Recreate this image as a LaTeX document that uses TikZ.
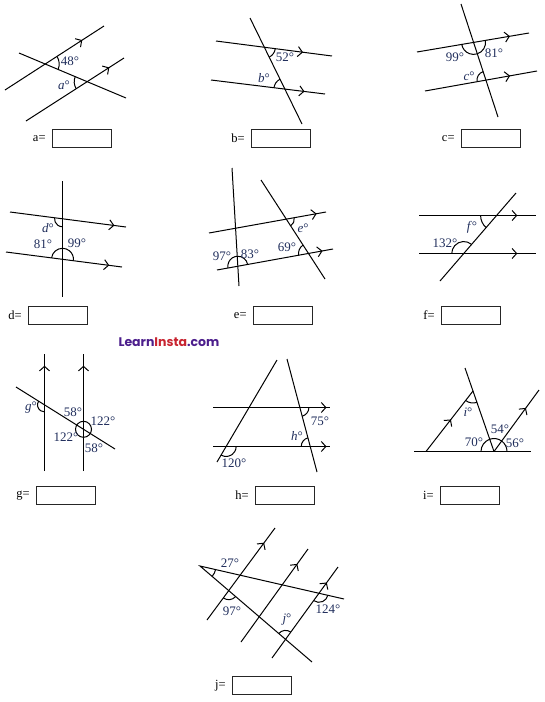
\documentclass[tikz,border=0pt]{standalone}
\usepackage{fontspec}
\setmainfont{Liberation Serif}
\usepackage{tikz}
\usetikzlibrary{arrows.meta}
\usetikzlibrary{angles,decorations.markings}
\usepackage{xcolor}
\newfontfamily\logofont{Poppins}
\definecolor{lblblue}{RGB}{32,46,92}
\definecolor{logopurple}{RGB}{76,30,140}
\definecolor{logored}{RGB}{200,36,48}

\begin{document}
\begin{tikzpicture}[x=1pt, y=-1pt, line width=1pt,
    parline/.style={postaction={decorate}, decoration={markings,
        mark=at position #1 with {\arrow[line width=1pt]{Straight Barb[length=4.5pt,width=10pt]}}}},
    ang/.style={draw, line width=1pt, angle radius=#1pt},
    lbl/.style={text=lblblue, font=\fontsize{13}{15}\selectfont, inner sep=0pt},
    ansbox/.style={draw=black!85, line width=0.9pt, minimum width=59pt, minimum height=18pt, inner sep=0pt},
    anstxt/.style={left=6pt, font=\fontsize{12.5}{14}\selectfont, inner sep=0pt}]
    \useasboundingbox (0,0) rectangle (545,702);

    % a
    \coordinate (aU1) at (5,90);    \coordinate (aU2) at (104,26);
    \coordinate (aL1) at (26,121);  \coordinate (aL2) at (124,58);
    \coordinate (aT1) at (19,53);   \coordinate (aT2) at (126,98);
    \coordinate (aP) at (intersection of aU1--aU2 and aT1--aT2);
    \coordinate (aQ) at (intersection of aL1--aL2 and aT1--aT2);
    \draw[parline=0.78] (aU1) -- (aU2);
    \draw[parline=0.85] (aL1) -- (aL2);
    \draw (aT1) -- (aT2);
    \pic[ang=14] {angle=aT2--aP--aU2};
    \pic[ang=13] {angle=aT1--aQ--aL1};
    \node[lbl] at (70,61) {48°};
    \node[lbl] at (64,85) {\textit{a}°};
    \node[ansbox] (aBox) at (82,138.5) {};
    \node[anstxt] at (aBox.west) {a=};

    % b
    \coordinate (bU1) at (216,41);  \coordinate (bU2) at (332,56);
    \coordinate (bL1) at (211,80);  \coordinate (bL2) at (325,94);
    \coordinate (bT1) at (250,18);  \coordinate (bT2) at (302,124);
    \coordinate (bP) at (intersection of bU1--bU2 and bT1--bT2);
    \coordinate (bQ) at (intersection of bL1--bL2 and bT1--bT2);
    \draw[parline=0.75] (bU1) -- (bU2);
    \draw[parline=0.82] (bL1) -- (bL2);
    \draw (bT1) -- (bT2);
    \pic[ang=11] {angle=bT2--bP--bU2};
    \pic[ang=11] {angle=bT1--bQ--bL1};
    \node[lbl] at (285,57) {52°};
    \node[lbl] at (264,78) {\textit{b}°};
    \node[ansbox] (bBox) at (281,138.5) {};
    \node[anstxt] at (bBox.west) {b=};

    % c
    \coordinate (cU1) at (417,52);  \coordinate (cU2) at (529,33);
    \coordinate (cL1) at (425,91);  \coordinate (cL2) at (537,71);
    \coordinate (cT1) at (461,4);   \coordinate (cT2) at (498,117);
    \coordinate (cP) at (intersection of cU1--cU2 and cT1--cT2);
    \coordinate (cQ) at (intersection of cL1--cL2 and cT1--cT2);
    \draw[parline=0.83] (cU1) -- (cU2);
    \draw[parline=0.76] (cL1) -- (cL2);
    \draw (cT1) -- (cT2);
    \pic[ang=12] {angle=cU1--cP--cT2};
    \pic[ang=12] {angle=cT2--cP--cU2};
    \pic[ang=9] {angle=cT1--cQ--cL1};
    \node[lbl] at (455,57) {99°};
    \node[lbl] at (494,53) {81°};
    \node[lbl] at (469,76) {\textit{c}°};
    \node[ansbox] (cBox) at (491,138.5) {};
    \node[anstxt] at (cBox.west) {c=};

    % d
    \coordinate (dV1) at (62.5,181); \coordinate (dV2) at (62.5,297);
    \coordinate (dU1) at (10,212);  \coordinate (dU2) at (126,227);
    \coordinate (dL1) at (6,252);   \coordinate (dL2) at (122,267);
    \coordinate (dP) at (intersection of dU1--dU2 and dV1--dV2);
    \coordinate (dQ) at (intersection of dL1--dL2 and dV1--dV2);
    \draw[parline=0.9] (dU1) -- (dU2);
    \draw[parline=0.89] (dL1) -- (dL2);
    \draw (dV1) -- (dV2);
    \pic[ang=8] {angle=dU1--dP--dV2};
    \pic[ang=11] {angle=dL2--dQ--dV1};
    \pic[ang=11] {angle=dV1--dQ--dL1};
    \node[lbl] at (48,228) {\textit{d}°};
    \node[lbl] at (43,244) {81°};
    \node[lbl] at (77,243) {99°};
    \node[ansbox] (dBox) at (58,315.5) {};
    \node[anstxt] at (dBox.west) {d=};

    % e
    \coordinate (eA1) at (232,168); \coordinate (eA2) at (239,286);
    \coordinate (eB1) at (261,180); \coordinate (eB2) at (325,279);
    \coordinate (eU1) at (209,233); \coordinate (eU2) at (326,212);
    \coordinate (eL1) at (217,270); \coordinate (eL2) at (333,249);
    \coordinate (eP) at (intersection of eU1--eU2 and eB1--eB2);
    \coordinate (eQ) at (intersection of eL1--eL2 and eB1--eB2);
    \coordinate (eR) at (intersection of eL1--eL2 and eA1--eA2);
    \draw[parline=0.92] (eU1) -- (eU2);
    \draw[parline=0.91] (eL1) -- (eL2);
    \draw (eA1) -- (eA2);
    \draw (eB1) -- (eB2);
    \pic[ang=8] {angle=eB2--eP--eU2};
    \pic[ang=10] {angle=eB1--eQ--eL1};
    \pic[ang=10] {angle=eL2--eR--eA1};
    \pic[ang=10] {angle=eA1--eR--eL1};
    \node[lbl] at (303,228) {\textit{e}°};
    \node[lbl] at (287,247) {69°};
    \node[lbl] at (222,256) {97°};
    \node[lbl] at (250,254) {83°};
    \node[ansbox] (eBox) at (283,315.5) {};
    \node[anstxt] at (eBox.west) {e=};

    % f
    \coordinate (fU1) at (419,215.5); \coordinate (fU2) at (536,215.5);
    \coordinate (fL1) at (419,253.5); \coordinate (fL2) at (536,253.5);
    \coordinate (fT1) at (516,193); \coordinate (fT2) at (440,281);
    \coordinate (fP) at (intersection of fU1--fU2 and fT1--fT2);
    \coordinate (fQ) at (intersection of fL1--fL2 and fT1--fT2);
    \draw[parline=0.84] (fU1) -- (fU2);
    \draw[parline=0.84] (fL1) -- (fL2);
    \draw (fT1) -- (fT2);
    \pic[ang=16] {angle=fU1--fP--fT2};
    \pic[ang=12] {angle=fT1--fQ--fL1};
    \node[lbl] at (472,227) {\textit{f}°};
    \node[lbl] at (445,243) {132°};
    \node[ansbox] (fBox) at (471,315.5) {};
    \node[anstxt] at (fBox.west) {f=};

    % logo
    \node[font=\logofont\bfseries\fontsize{12.5}{14}\selectfont, inner sep=0pt] (logo) at (169,342)
        {\textcolor{logopurple}{Learn}\textcolor{logored}{Insta}\textcolor{logopurple}{.com}};

    % g
    \coordinate (gV1) at (44.5,471);  \coordinate (gV2) at (44.5,354);
    \coordinate (gW1) at (83.5,471);  \coordinate (gW2) at (83.5,354);
    \coordinate (gT1) at (16,387);  \coordinate (gT2) at (115,449);
    \coordinate (gP) at (intersection of gV1--gV2 and gT1--gT2);
    \coordinate (gQ) at (intersection of gW1--gW2 and gT1--gT2);
    \draw[parline=0.9] (gV1) -- (gV2);
    \draw[parline=0.9] (gW1) -- (gW2);
    \draw (gT1) -- (gT2);
    \pic[ang=7] {angle=gT1--gP--gV1};
    \draw[line width=1pt] (gQ) circle (8);
    \node[lbl] at (31,408) {\textit{g}°};
    \node[lbl] at (73,412) {58°};
    \node[lbl] at (103,421) {122°};
    \node[lbl] at (66,437) {122°};
    \node[lbl] at (94,448) {58°};
    \node[ansbox] (gBox) at (66,495.5) {};
    \node[anstxt] at (gBox.west) {g=};

    % h
    \coordinate (hU1) at (213,407.5); \coordinate (hU2) at (330,407.5);
    \coordinate (hL1) at (213,446.5); \coordinate (hL2) at (330,446.5);
    \coordinate (hA1) at (277,360); \coordinate (hA2) at (217,462);
    \coordinate (hB1) at (287,359); \coordinate (hB2) at (317,472);
    \coordinate (hP) at (intersection of hU1--hU2 and hB1--hB2);
    \coordinate (hQ) at (intersection of hL1--hL2 and hB1--hB2);
    \coordinate (hR) at (intersection of hL1--hL2 and hA1--hA2);
    \draw[parline=0.97] (hU1) -- (hU2);
    \draw[parline=0.97] (hL1) -- (hL2);
    \draw (hA1) -- (hA2);
    \draw (hB1) -- (hB2);
    \pic[ang=9] {angle=hB2--hP--hU2};
    \pic[ang=9] {angle=hB1--hQ--hL1};
    \pic[ang=10] {angle=hA2--hR--hL2};
    \node[lbl] at (320,421) {75°};
    \node[lbl] at (297,436) {\textit{h}°};
    \node[lbl] at (234,463) {120°};
    \node[ansbox] (hBox) at (285,495.5) {};
    \node[anstxt] at (hBox.west) {h=};

    % i
    \coordinate (iB1) at (414,451.5); \coordinate (iB2) at (531,451.5);
    \coordinate (iS) at (426,451.5);  \coordinate (iApex) at (473,391);
    \coordinate (iM1) at (465,368); \coordinate (iO) at (494,451.5);
    \coordinate (iR) at (539,390);
    \draw (iB1) -- (iB2);
    \draw[parline=0.53] (iS) -- (iApex);
    \draw (iM1) -- (iO);
    \draw[parline=0.71] (iO) -- (iR);
    \pic[ang=12] {angle=iS--iApex--iO};
    \pic[ang=13] {angle=iB2--iO--iR};
    \pic[ang=13] {angle=iR--iO--iApex};
    \pic[ang=13] {angle=iApex--iO--iB1};
    \node[lbl] at (468,412) {\textit{i}°};
    \node[lbl] at (474,442) {70°};
    \node[lbl] at (500,429) {54°};
    \node[lbl] at (515,443) {56°};
    \node[ansbox] (iBox) at (470,495.5) {};
    \node[anstxt] at (iBox.west) {i=};

    % j
    \coordinate (jA) at (200,566);
    \coordinate (jE1) at (344,599); \coordinate (jE2) at (312,662);
    \coordinate (jP1a) at (207,620); \coordinate (jP1b) at (275,528);
    \coordinate (jP2a) at (241,642); \coordinate (jP2b) at (308,549);
    \coordinate (jP3a) at (272,658); \coordinate (jP3b) at (338,567);
    \coordinate (jQ) at (intersection of jA--jE2 and jP1a--jP1b);
    \coordinate (jR) at (intersection of jA--jE1 and jP3a--jP3b);
    \coordinate (jS) at (intersection of jA--jE2 and jP3a--jP3b);
    \draw (jE1) -- (jA) -- (jE2);
    \draw[parline=0.84] (jP1a) -- (jP1b);
    \draw[parline=0.84] (jP2a) -- (jP2b);
    \draw[parline=0.83] (jP3a) -- (jP3b);
    \pic[ang=16] {angle=jE2--jA--jE1};
    \pic[ang=9] {angle=jP1a--jQ--jE2};
    \pic[ang=9] {angle=jP3a--jR--jE1};
    \pic[ang=9] {angle=jP3b--jS--jA};
    \node[lbl] at (230,563) {27°};
    \node[lbl] at (232,611) {97°};
    \node[lbl] at (328,609) {124°};
    \node[lbl] at (287,620) {\textit{j}°};
    \node[ansbox] (jBox) at (262,685.5) {};
    \node[anstxt] at (jBox.west) {j=};
\end{tikzpicture}
\end{document}
